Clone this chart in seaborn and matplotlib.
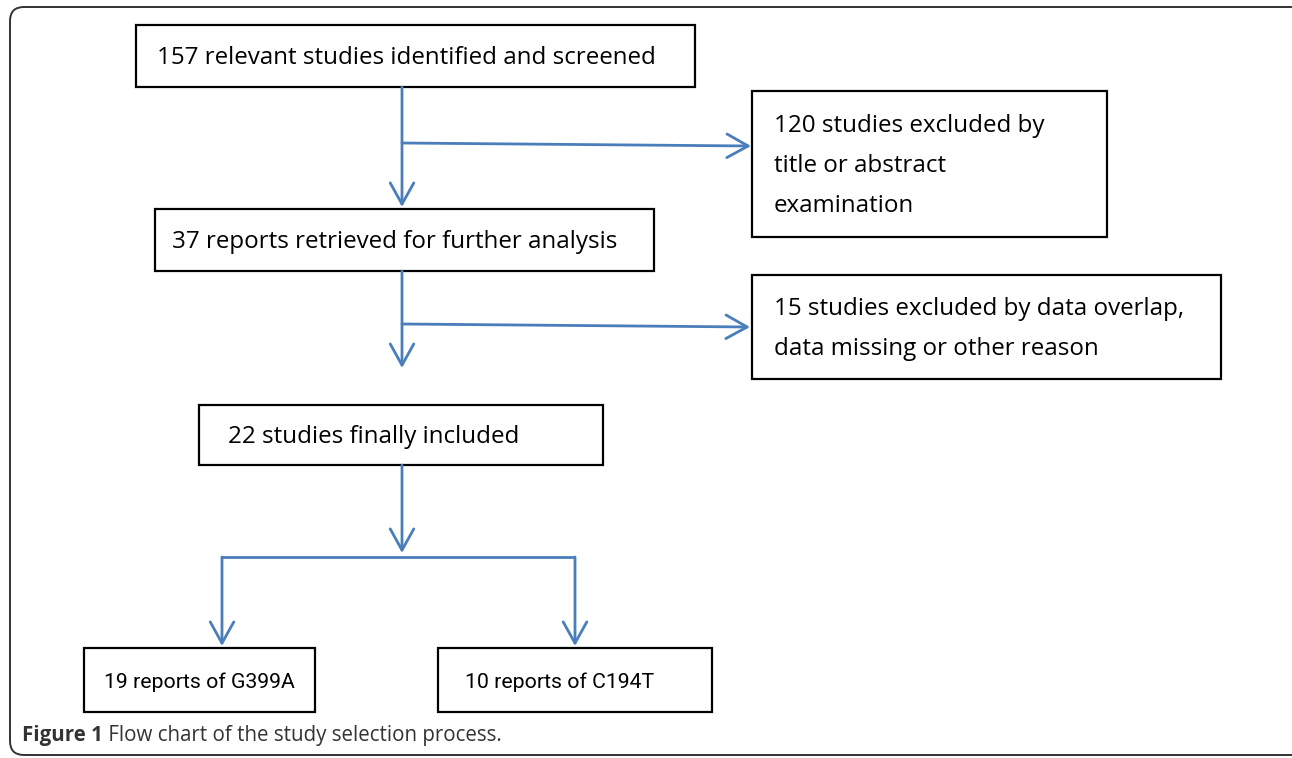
import matplotlib
matplotlib.use("Agg")
import matplotlib.pyplot as plt
from matplotlib.patches import FancyBboxPatch, Rectangle, FancyArrowPatch
import seaborn as sns

# texts of the flow chart
box_labels = [
    "157 relevant studies identified and screened",
    "120 studies excluded by\ntitle or abstract\nexamination",
    "37 reports retrieved for further analysis",
    "15 studies excluded by data overlap,\ndata missing or other reason",
    "22 studies finally included",
    "19 reports of G399A",
    "10 reports of C194T",
]
caption_bold = "Figure 1"
caption_rest = " Flow chart of the study selection process."

# box geometry in pixels: x0, y0, x1, y1
box_pos = [
    (136, 25, 695, 87),
    (752, 91, 1107, 237),
    (155, 209, 654, 271),
    (752, 275, 1221, 379),
    (199, 405, 603, 465),
    (84, 648, 315, 712),
    (438, 648, 712, 712),
]
text_left = [157, 774, 172, 774, 228, 104, 465]
text_size = [17.4, 17.4, 17.4, 17.4, 17.4, 15.3, 15.3]
text_font = ["Open Sans"] * 5 + ["Roboto"] * 2

sns.set_theme(style="white")
plt.rcParams["font.family"] = ["Open Sans", "DejaVu Sans"]

W, H = 1292, 758
fig = plt.figure(figsize=(W / 100, H / 100), dpi=100)
ax = fig.add_axes([0, 0, 1, 1])
ax.set_xlim(0, W)
ax.set_ylim(H, 0)
ax.axis("off")

# outer rounded frame
frame = FancyBboxPatch((10, 7), 1300, 748, boxstyle="round,pad=0,rounding_size=14",
                       fill=False, ec="#333333", lw=1.4)
ax.add_patch(frame)

for (x0, y0, x1, y1), lab, tx, fs, fam in zip(box_pos, box_labels, text_left, text_size, text_font):
    ax.add_patch(Rectangle((x0, y0), x1 - x0, y1 - y0, fill=False, ec="black", lw=1.6))
    ax.text(tx, (y0 + y1) / 2 + 2, lab, ha="left", va="center", fontsize=fs,
            family=[fam, "DejaVu Sans"], color="black", linespacing=1.9)

blue = "#4a7ebb"


def line(xs, ys):
    ax.plot(xs, ys, color=blue, lw=2, solid_capstyle="butt")


def arrow(x0, y0, x1, y1):
    ax.add_patch(FancyArrowPatch((x0, y0), (x1, y1), arrowstyle="->,head_length=9,head_width=5",
                                 color=blue, lw=2, shrinkA=0, shrinkB=0, mutation_scale=1.7))


arrow(402, 87, 402, 207)
arrow(402, 143, 751, 146)
arrow(402, 271, 402, 368)
arrow(402, 324, 750, 327)
arrow(402, 465, 402, 553)
line([222, 575], [557, 557])
arrow(222, 557, 222, 646)
arrow(575, 557, 575, 646)

t = ax.text(22, 735, caption_bold, ha="left", va="center", fontsize=14.8,
            fontweight="bold", color="#333333")
fig.canvas.draw()
bb = t.get_window_extent()
ax.text(22 + bb.width, 735, caption_rest, ha="left", va="center", fontsize=14.8,
        color="#333333")

fig.savefig("out.png", dpi=100)
